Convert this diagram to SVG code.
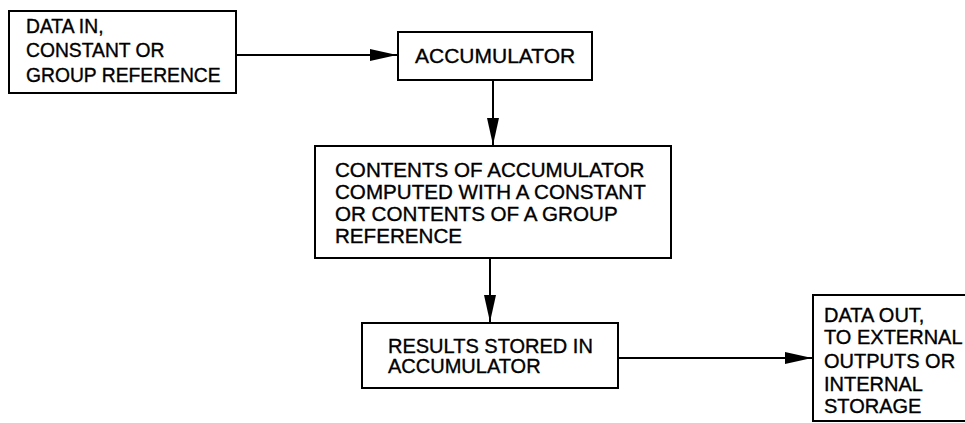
<svg xmlns="http://www.w3.org/2000/svg" width="965" height="423" viewBox="0 0 965 423">
<style>
.box{fill:#fff;stroke:#000;stroke-width:2}
.t{font-family:"Liberation Sans",Arial,sans-serif;font-size:20px;fill:#000;stroke:#000;stroke-width:0.35}
.c{stroke:#000;stroke-width:2;fill:none}
</style>
<defs>
<marker id="ah" markerUnits="userSpaceOnUse" markerWidth="28" markerHeight="13" refX="27" refY="6" orient="auto">
<path d="M0,0 L27,6 L0,12 z" fill="#000"/>
</marker>
</defs>
<rect width="965" height="423" fill="#fff"/>
<g id="connectors">
<line class="c" x1="236" y1="55" x2="397" y2="55" marker-end="url(#ah)"/>
<line class="c" x1="493" y1="80" x2="493" y2="145" marker-end="url(#ah)"/>
<line class="c" x1="490" y1="258" x2="490" y2="322" marker-end="url(#ah)"/>
<line class="c" x1="618" y1="358" x2="812" y2="358" marker-end="url(#ah)"/>
</g>
<g id="data-in">
<rect class="box" x="9" y="11" width="227" height="82"/>
<text class="t" x="26" y="33" style="font-size:19.3px">DATA IN,</text>
<text class="t" x="26" y="57" style="font-size:19.3px">CONSTANT OR</text>
<text class="t" x="26" y="82" style="font-size:19.3px">GROUP REFERENCE</text>
</g>
<g id="accumulator">
<rect class="box" x="398" y="32" width="194" height="48"/>
<text class="t" x="415" y="63" style="font-size:21px">ACCUMULATOR</text>
</g>
<g id="compute">
<rect class="box" x="315" y="146" width="356" height="112"/>
<text class="t" x="335" y="177" style="font-size:20.6px">CONTENTS OF ACCUMULATOR</text>
<text class="t" x="335" y="199" style="font-size:20.6px">COMPUTED WITH A CONSTANT</text>
<text class="t" x="335" y="221" style="font-size:20.6px">OR CONTENTS OF A GROUP</text>
<text class="t" x="335" y="243" style="font-size:20.6px">REFERENCE</text>
</g>
<g id="results">
<rect class="box" x="362" y="323" width="256" height="65"/>
<text class="t" x="388" y="353">RESULTS STORED IN</text>
<text class="t" x="388" y="373">ACCUMULATOR</text>
</g>
<g id="data-out">
<rect class="box" x="813" y="295" width="170" height="126"/>
<text class="t" x="824" y="322">DATA OUT,</text>
<text class="t" x="824" y="344">TO EXTERNAL</text>
<text class="t" x="824" y="368">OUTPUTS OR</text>
<text class="t" x="824" y="391">INTERNAL</text>
<text class="t" x="824" y="413">STORAGE</text>
</g>
</svg>
